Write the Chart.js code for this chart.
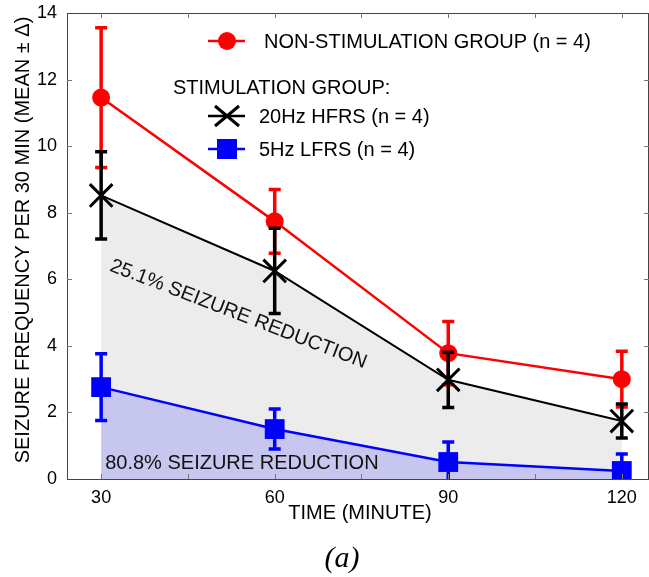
<!DOCTYPE html>
<html>
<head>
<meta charset="utf-8">
<script src="https://cdn.jsdelivr.net/npm/chart.js@4"></script>
<style>
  body { margin: 0; background: #fff; }
</style>
</head>
<body>
<canvas id="grafico" width="649" height="577"></canvas>
<script>
const times = [30, 60, 90, 120];
const xTicks = [30, 45, 60, 75, 90, 105, 120];
const xLabels = [30, 60, 90, 120];

const nonStim = [11.46, 7.74, 3.78, 3.0];
const nonStimErr = [2.1, 0.96, 0.95, 0.84];
const hfrs = [8.52, 6.25, 2.98, 1.74];
const hfrsErr = [1.31, 1.28, 0.83, 0.51];
const lfrs = [2.76, 1.5, 0.51, 0.24];
const lfrsErr = [1.0, 0.6, 0.6, 0.51];

const font = '"Liberation Sans", Arial, sans-serif';

const toXY = (vals) => vals.map((v, i) => ({ x: times[i], y: v }));
const errors = [nonStimErr, hfrsErr, lfrsErr];

// barras de erro, desenhadas logo depois de cada serie
const errorBars = {
  id: 'errorBars',
  afterDatasetDraw(chart, args) {
    const ds = chart.data.datasets[args.index];
    const err = errors[args.index];
    const xs = chart.scales.x, ys = chart.scales.y;
    const area = chart.chartArea;
    const ctx = chart.ctx;
    ctx.save();
    ctx.beginPath();
    ctx.rect(area.left, area.top - 20, area.right - area.left, area.bottom - area.top + 20);
    ctx.clip();
    ctx.strokeStyle = ds.borderColor;
    ctx.lineWidth = 3.5;
    ds.data.forEach((p, i) => {
      const x = xs.getPixelForValue(p.x);
      const yHi = ys.getPixelForValue(p.y + err[i]);
      const yLo = ys.getPixelForValue(p.y - err[i]);
      ctx.beginPath();
      ctx.moveTo(x, yHi); ctx.lineTo(x, yLo);
      ctx.moveTo(x - 6, yHi); ctx.lineTo(x + 6, yHi);
      ctx.moveTo(x - 6, yLo); ctx.lineTo(x + 6, yLo);
      ctx.stroke();
    });
    ctx.restore();
  }
};

// caixa, ticks para dentro, legenda e textos
const extras = {
  id: 'extras',
  afterDraw(chart) {
    const ctx = chart.ctx;
    const a = chart.chartArea;
    const xs = chart.scales.x, ys = chart.scales.y;
    ctx.save();
    ctx.strokeStyle = '#444';
    ctx.lineWidth = 1;
    ctx.strokeRect(a.left + 0.5, a.top + 0.5, a.right - a.left - 1, a.bottom - a.top);
    ctx.strokeStyle = '#777';
    ctx.beginPath();
    xTicks.forEach(v => {
      const x = Math.round(xs.getPixelForValue(v)) + 0.5;
      ctx.moveTo(x, a.bottom); ctx.lineTo(x, a.bottom - 5);
      ctx.moveTo(x, a.top); ctx.lineTo(x, a.top + 5);
    });
    for (let v = 2; v < 14; v += 2) {
      const y = Math.round(ys.getPixelForValue(v)) + 0.5;
      ctx.moveTo(a.left, y); ctx.lineTo(a.left + 5, y);
      ctx.moveTo(a.right, y); ctx.lineTo(a.right - 5, y);
    }
    ctx.stroke();

    // textos das areas
    ctx.fillStyle = '#111';
    ctx.font = '20px ' + font;
    ctx.textBaseline = 'middle';
    ctx.textAlign = 'left';
    ctx.fillText('80.8% SEIZURE REDUCTION', xs.getPixelForValue(30.7), ys.getPixelForValue(0.48));
    ctx.save();
    ctx.translate(xs.getPixelForValue(53.7), ys.getPixelForValue(4.95));
    ctx.rotate(21 * Math.PI / 180);
    ctx.textAlign = 'center';
    ctx.fillText('25.1% SEIZURE REDUCTION', 0, 0);
    ctx.restore();

    // legenda
    ctx.fillStyle = '#000';
    ctx.lineWidth = 2.5;
    ctx.strokeStyle = '#ff0000';
    ctx.beginPath(); ctx.moveTo(208, 41); ctx.lineTo(245, 41); ctx.stroke();
    ctx.fillStyle = '#ff0000';
    ctx.beginPath(); ctx.arc(227, 41, 9, 0, Math.PI * 2); ctx.fill();
    ctx.fillStyle = '#000';
    ctx.fillText('NON-STIMULATION GROUP (n = 4)', 264, 42);
    ctx.fillText('STIMULATION GROUP:', 173, 88);

    ctx.strokeStyle = '#000';
    ctx.beginPath(); ctx.moveTo(208, 116); ctx.lineTo(245, 116); ctx.stroke();
    ctx.lineWidth = 3;
    ctx.beginPath();
    ctx.moveTo(215, 106); ctx.lineTo(239, 126);
    ctx.moveTo(239, 106); ctx.lineTo(215, 126);
    ctx.stroke();
    ctx.fillText('20Hz HFRS (n = 4)', 259, 117);

    ctx.lineWidth = 2.5;
    ctx.strokeStyle = '#0000ff';
    ctx.beginPath(); ctx.moveTo(208, 149); ctx.lineTo(245, 149); ctx.stroke();
    ctx.fillStyle = '#0000ff';
    ctx.fillRect(217, 139, 20, 20);
    ctx.fillStyle = '#000';
    ctx.fillText('5Hz LFRS (n = 4)', 259, 150);

    // titulos dos eixos
    ctx.textAlign = 'center';
    ctx.fillText('TIME (MINUTE)', 360, 513);
    ctx.save();
    ctx.translate(23, 240);
    ctx.rotate(-Math.PI / 2);
    ctx.fillText('SEIZURE FREQUENCY PER 30 MIN (MEAN \u00b1 \u0394)', 0, 0);
    ctx.restore();
    ctx.font = 'italic 30px "Liberation Serif", "Times New Roman", serif';
    ctx.fillText('(a)', 342, 559);
    ctx.restore();
  }
};

new Chart(document.getElementById('grafico'), {
  type: 'line',
  data: {
    datasets: [
      {
        label: 'NON-STIMULATION GROUP (n = 4)',
        data: toXY(nonStim),
        borderColor: '#ff0000',
        backgroundColor: '#ff0000',
        borderWidth: 2.5,
        pointStyle: 'circle',
        pointRadius: 9,
        pointBorderWidth: 0,
        fill: false,
        order: 3
      },
      {
        label: '20Hz HFRS (n = 4)',
        data: toXY(hfrs),
        borderColor: '#000000',
        backgroundColor: 'rgb(236,236,236)',
        pointBackgroundColor: '#000',
        borderWidth: 2,
        pointStyle: 'crossRot',
        pointRadius: 16,
        pointBorderWidth: 3,
        fill: 'origin',
        order: 2
      },
      {
        label: '5Hz LFRS (n = 4)',
        data: toXY(lfrs),
        borderColor: '#0000ff',
        backgroundColor: 'rgb(198,198,238)',
        pointBackgroundColor: '#0000ff',
        borderWidth: 2.5,
        pointStyle: 'rect',
        pointRadius: 14,
        pointBorderWidth: 0,
        fill: 'origin',
        order: 1
      }
    ]
  },
  options: {
    responsive: false,
    animation: false,
    layout: { autoPadding: false, padding: { left: 0, top: 13, right: -1, bottom: 0 } },
    plugins: {
      legend: { display: false },
      tooltip: { enabled: false },
      filler: { drawTime: 'beforeDatasetsDraw' }
    },
    scales: {
      x: {
        type: 'linear',
        min: 24.1,
        max: 124.7,
        afterBuildTicks: (s) => { s.ticks = xTicks.map(v => ({ value: v })); },
        afterFit: (s) => { s.height = 98; s.paddingLeft = 0; s.paddingRight = 0; },
        ticks: {
          autoSkip: false,
          maxRotation: 0,
          padding: 8,
          color: '#000',
          font: { family: font, size: 18 },
          callback: (v) => xLabels.includes(v) ? String(v) : ''
        },
        grid: { display: false, drawTicks: false },
        border: { display: false }
      },
      y: {
        min: 0,
        max: 14,
        afterFit: (s) => { s.width = 67; s.paddingTop = 0; s.paddingBottom = 0; },
        ticks: {
          stepSize: 2,
          padding: 10,
          color: '#000',
          font: { family: font, size: 18 }
        },
        grid: { display: false, drawTicks: false },
        border: { display: false }
      }
    }
  },
  plugins: [errorBars, extras]
});
</script>
</body>
</html>
